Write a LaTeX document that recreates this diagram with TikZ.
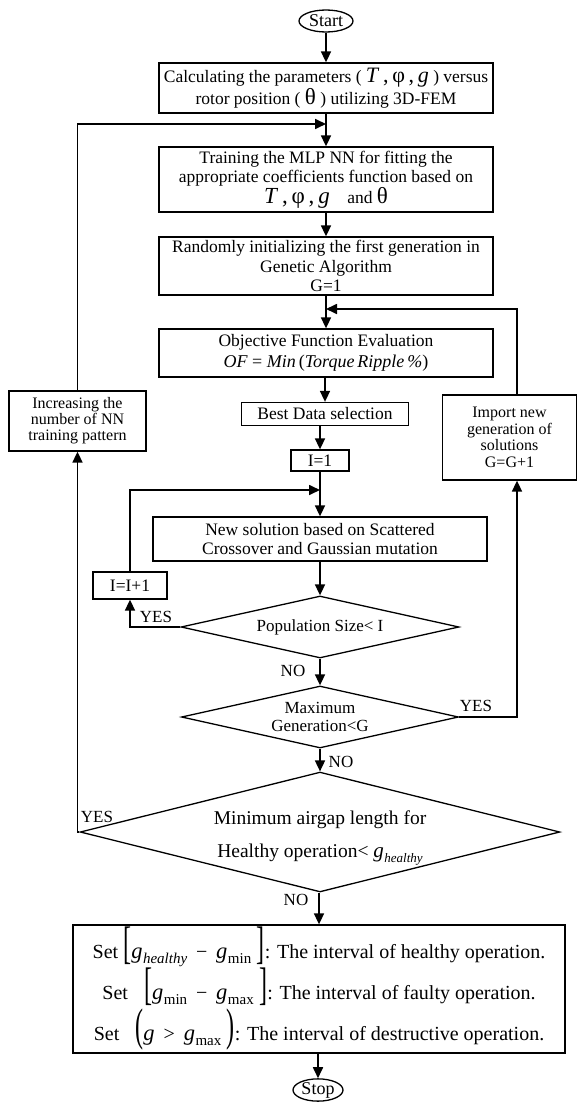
\documentclass[tikz,border=0pt]{standalone}
\usepackage{fontspec}
\setmainfont{Liberation Serif}
\usepackage{graphicx}
\usetikzlibrary{shapes.geometric,arrows.meta}
\newcommand{\myfs}[2]{\fontsize{#1}{#2}\selectfont}
\newcommand{\gsub}[1]{{\myfs{22.5}{22.5}\textit{g}}\kern0.5pt\raisebox{-5pt}{\myfs{15}{15}#1}}
\newcommand{\gsubs}[1]{{\myfs{21}{21}\textit{g}}\kern0.5pt\raisebox{-5pt}{\myfs{13}{13}#1}}
\newcommand{\bbr}[1]{\scalebox{1}[1.9]{\myfs{24}{24}#1}}
\begin{document}
\begin{tikzpicture}[x=1pt,y=-1pt,
  box/.style={draw, line width=1.3pt, align=center, inner sep=0pt, font=\myfs{17.5}{19.5}},
  dia/.style={draw, diamond, line width=1.3pt, inner sep=0pt, align=center},
  term/.style={draw, ellipse, line width=1.3pt, inner sep=0pt, font=\myfs{18}{18}},
  arr/.style={line width=1.7pt, -{Triangle[length=11pt,width=10pt]}},
  lbl/.style={font=\myfs{17}{17}, inner sep=0pt}]
\useasboundingbox (0,0) rectangle (578,1102);

% main column
\node[term, minimum width=54pt, minimum height=22pt] (start) at (326,21) {Start};
\node[box, minimum width=334pt, minimum height=50pt] (b1) at (326,88)
  {Calculating the parameters ( {\myfs{22}{22}\textit{T}\,,\,φ\,,\,\textit{g}} ) versus\\
   rotor position ( {\myfs{23}{23}θ} ) utilizing 3D-FEM};
\node[box, minimum width=334pt, minimum height=65pt] (b2) at (326,179.5)
  {Training the MLP NN for fitting the\\
   appropriate coefficients function based on\\
   {\myfs{23}{23}\textit{T}\,,\,φ\,,\,\textit{g}}\quad and {\myfs{23}{23}θ}};
\node[box, minimum width=334pt, minimum height=58pt] (b3) at (326,266)
  {Randomly initializing the first generation in\\ Genetic Algorithm\\ G=1};
\node[box, minimum width=334pt, minimum height=48pt] (b4) at (326,353)
  {Objective Function Evaluation\\[1pt]
   {\myfs{18}{18}\textit{OF} = \textit{Min}\,(\textit{Torque\,Ripple}\,\textit{\%})}};
\node[box, minimum width=167pt, minimum height=23pt] (b5) at (325,414) {Best Data selection};
\node[box, minimum width=58pt, minimum height=21pt] (b6) at (320,460.5) {I=1};
\node[box, minimum width=334pt, minimum height=44pt] (b7) at (320,539)
  {New solution based on Scattered\\ Crossover and Gaussian mutation};
\node[box, minimum width=74pt, minimum height=27pt] (b8) at (130,585.5) {I=I+1};
\node[dia, minimum width=278pt, minimum height=62pt, aspect=4.5, font=\myfs{17}{18}] (d1) at (320,627)
  {Population Size< I};
\node[dia, minimum width=277pt, minimum height=62pt, aspect=4.5, font=\myfs{17}{18}] (d2) at (320,717)
  {Maximum\\ Generation<G};
\node[dia, minimum width=434pt, minimum height=108pt, aspect=4, font=\myfs{19.5}{33}] (d3) at (320,832)
  {\rule{0pt}{26pt}Minimum airgap length for\\ Healthy operation< \gsubs{\textit{healthy}}};
\node[box, minimum width=492pt, minimum height=128pt, font=\myfs{20}{41}] (b9) at (319,989)
  {Set \bbr{[}\gsub{\textit{healthy}}\;\,−\;\,\gsub{min}\;\bbr{]}: The interval of healthy operation.\\
   Set \;\;\bbr{[}\gsub{min}\;\,−\;\,\gsub{max}\;\bbr{]}: The interval of faulty operation.\\
   Set \;\;\bbr{(}{\myfs{22.5}{22.5}\textit{g}}\;\,>\;\,\gsub{max}\;\bbr{)}: The interval of destructive operation.};
\node[term, minimum width=50pt, minimum height=22pt] (stop) at (318,1090) {Stop};

% side boxes
\node[box, minimum width=137pt, minimum height=60pt, font=\myfs{16}{16}] (binc) at (77.5,421)
  {Increasing the\\ number of NN\\ training pattern};
\node[box, minimum width=134pt, minimum height=85pt, font=\myfs{16}{16.5}] (bimp) at (509.5,437.5)
  {Import new\\ generation of\\ solutions\\ G=G+1};

% junction points on the main line
\coordinate (j1) at (326,124);
\coordinate (j2) at (326,309);
\coordinate (j3) at (320,490);

% main connectors
\draw[arr] (start.south) -- (b1.north);
\draw[arr] (b1.south) -- (b2.north);
\draw[arr] (b2.south) -- (b3.north);
\draw[arr] (b3.south) -- (b4.north);
\draw[arr] (b4.south -| b5.north) -- (b5.north);
\draw[arr] (b5.south -| b6.north) -- (b6.north);
\draw[arr] (b6.south) -- (b7.north);
\draw[arr] (b7.south) -- (d1.north);
\draw[arr] (d1.south) -- (d2.north);
\draw[arr] (d2.south) -- (d3.north);
\draw[arr] (d3.south -| b9.north) -- (b9.north);
\draw[arr] (b9.south -| stop.north) -- (stop.north);

% loops
\draw[arr] (d1.west) -| (b8.south);
\draw[arr] (b8.north) |- (j3);
\draw[arr] (d2.east) -| ([xshift=7.5pt]bimp.south);
\draw[arr] ([xshift=7.5pt]bimp.north) |- (j2);
\draw[arr] (d3.west) -| (binc.south);
\draw[arr] (binc.north) |- (j1);

% labels
\node[lbl] (yes1) at (156,617) {YES};
\node[lbl] (no1) at (293,671) {NO};
\node[lbl] (yes2) at (476,706) {YES};
\node[lbl] (no2) at (341,762) {NO};
\node[lbl] (yes3) at (97,817) {YES};
\node[lbl] (no3) at (296,900) {NO};
\end{tikzpicture}
\end{document}
